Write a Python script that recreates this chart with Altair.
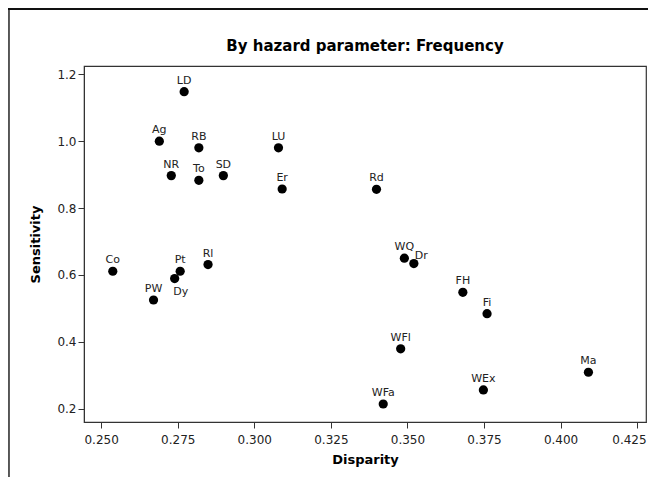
import altair as alt
import pandas as pd

# Data
names = ["LD", "Ag", "RB", "LU", "NR", "To", "SD", "Er", "Rd", "Co", "Pt",
         "Dy", "PW", "Rl", "WQ", "Dr", "FH", "Fi", "WFl", "Ma", "WEx", "WFa"]
disparity = [0.2771, 0.2690, 0.2819, 0.3079, 0.2729, 0.2819, 0.2899, 0.3091,
             0.3399, 0.2538, 0.2758, 0.2740, 0.2671, 0.2849, 0.3490, 0.3521,
             0.3681, 0.3760, 0.3478, 0.4091, 0.3748, 0.3421]
sensitivity = [1.148, 1.000, 0.980, 0.980, 0.897, 0.883, 0.897, 0.857,
               0.856, 0.611, 0.611, 0.589, 0.525, 0.631, 0.650, 0.634,
               0.548, 0.484, 0.379, 0.309, 0.256, 0.214]
x_ticks = [0.250, 0.275, 0.300, 0.325, 0.350, 0.375, 0.400, 0.425]
y_ticks = [0.2, 0.4, 0.6, 0.8, 1.0, 1.2]

df = pd.DataFrame({"name": names, "Disparity": disparity, "Sensitivity": sensitivity})

FONT = "DejaVu Sans"
AX = "#333333"

x_enc = alt.X("Disparity:Q", title="Disparity",
              scale=alt.Scale(domain=[0.2444, 0.4279], nice=False, zero=False),
              axis=alt.Axis(values=x_ticks, format=".3f", grid=False,
                            labelFlush=10, labelFlushOffset=9))
y_enc = alt.Y("Sensitivity:Q", title="Sensitivity",
              scale=alt.Scale(domain=[0.1602, 1.2248], nice=False, zero=False),
              axis=alt.Axis(values=y_ticks, format=".1f", grid=False))

base = alt.Chart(df).encode(x=x_enc, y=y_enc)

points = base.mark_circle(size=85, color="black", opacity=1)

txt_style = dict(font=FONT, fontSize=11, color="#222222", baseline="alphabetic")

labels_above = base.transform_filter(
    "datum.name != 'Dy' && datum.name != 'Dr'"
).mark_text(align="center", dy=-8, **txt_style).encode(text="name:N")

label_dy = base.transform_filter("datum.name == 'Dy'").mark_text(
    align="center", dx=6, dy=16, **txt_style).encode(text="name:N")

label_dr = base.transform_filter("datum.name == 'Dr'").mark_text(
    align="left", dx=1, dy=-5, **txt_style).encode(text="name:N")

# outer figure frame (decorative)
frame_left = alt.Chart(df).mark_rule(color="#555555", strokeWidth=1.2).encode(
    x=alt.value(-75.5), y=alt.value(-57.5), y2=alt.value(420))
frame_top = alt.Chart(df).mark_rule(color="#111111", strokeWidth=1.4).encode(
    x=alt.value(-75.5), x2=alt.value(600), y=alt.value(-57.5))

chart = alt.layer(
    frame_left, frame_top, points, labels_above, label_dy, label_dr
).properties(
    width=562,
    height=356,
    title=alt.TitleParams("By hazard parameter: Frequency", font=FONT, fontSize=15,
                          fontWeight="bold", color="black", anchor="middle",
                          offset=0, baseline="alphabetic", dy=58),
    autosize=alt.AutoSizeParams(type="none"),
    padding={"left": 76, "top": 58, "right": 2, "bottom": 55},
).configure_view(
    stroke=AX, strokeWidth=1.2
).configure_axis(
    labelFont=FONT, labelFontSize=12, labelColor="#222222",
    titleFont=FONT, titleFontSize=13, titleFontWeight="bold", titleColor="black",
    domainColor=AX, tickColor=AX, tickSize=6, labelPadding=2,
).configure_axisX(
    titlePadding=8, labelPadding=6,
).configure_axisY(
    titlePadding=14,
)

chart.save("out.html", embed_options={"renderer": "svg", "actions": False})
